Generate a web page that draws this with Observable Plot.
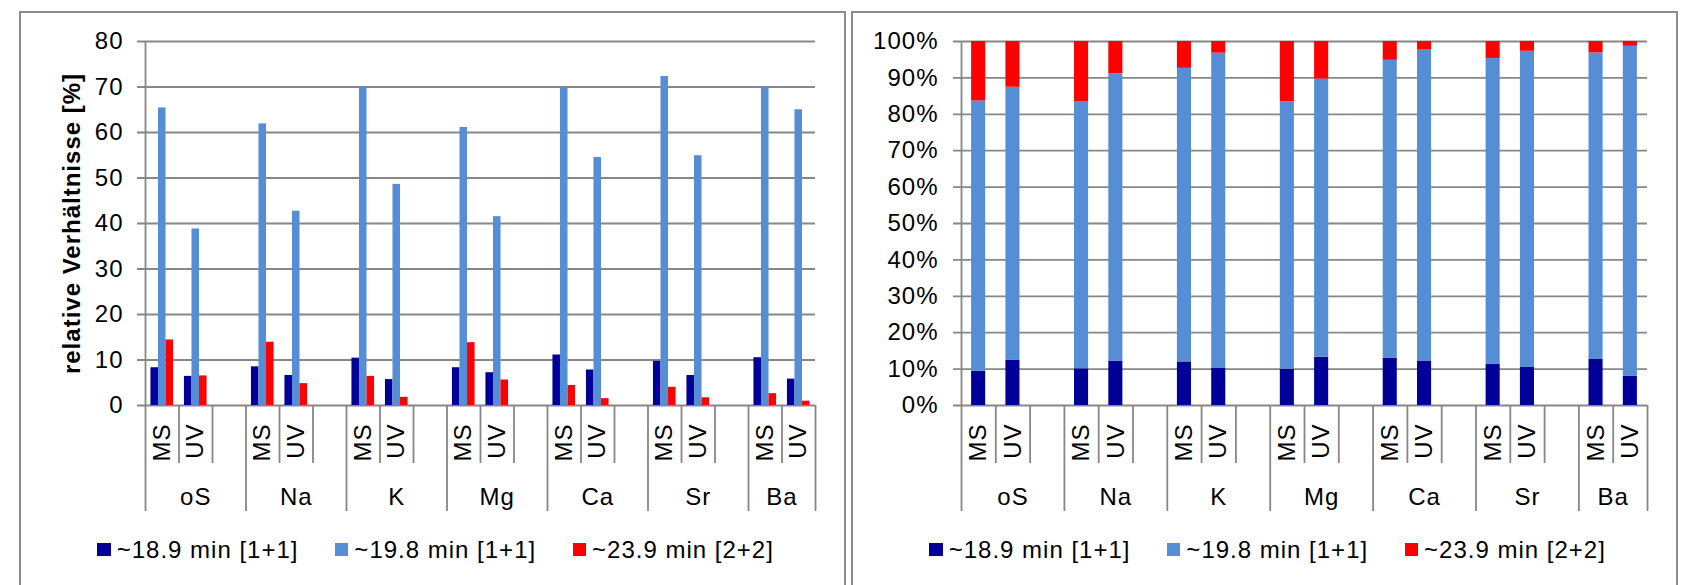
<!DOCTYPE html>
<html>
<head>
<meta charset="utf-8">
<script src="https://cdn.jsdelivr.net/npm/d3@7"></script>
<script src="https://cdn.jsdelivr.net/npm/@observablehq/plot@0.6"></script>
<style>
  html, body { margin: 0; padding: 0; background: #fff; }
  #page { position: relative; width: 1690px; height: 585px; overflow: hidden; font-family: "Liberation Sans", Arial, sans-serif; color: #000; }
  .chart { position: absolute; top: 0; width: 845px; height: 520px; }
  .chart svg { font-family: "Liberation Sans", Arial, sans-serif; font-size: 24px; color: #000; overflow: visible; background: transparent; }
  .chart svg text { letter-spacing: 1px; }
  .frame { position: absolute; top: 11px; height: 700px; width: 827px; border: 2px solid #8c8c8c; box-sizing: border-box; pointer-events: none; }
  .legend { position: absolute; top: 535.5px; height: 28px; display: flex; align-items: center; font-size: 24px; letter-spacing: 1px; line-height: 28px; white-space: nowrap; }
  .item { display: flex; align-items: center; margin-right: 36.5px; }
  .sw { width: 13.4px; height: 13.4px; margin-right: 6px; flex: none; }
</style>
</head>
<body>
<div id="page">
  <div class="chart" id="left" style="left:0px"></div>
  <div class="chart" id="right" style="left:845px"></div>
  <div class="legend" id="legLeft" style="left:97.3px"></div>
  <div class="legend" id="legRight" style="left:929.3px"></div>
  <div class="frame" style="left:19px"></div>
  <div class="frame" style="left:851px"></div>
</div>
<script>
// ---------- data ----------
const groups = ["oS", "Na", "K", "Mg", "Ca", "Sr", "Ba"];
const methods = ["MS", "UV"];
const seriesNames = ["~18.9 min [1+1]", "~19.8 min [1+1]", "~23.9 min [2+2]"];
const seriesColors = ["#000099", "#558ED5", "#FF0000"];
// values ordered oS-MS, oS-UV, Na-MS, Na-UV, K-MS, K-UV, Mg-MS, Mg-UV, Ca-MS, Ca-UV, Sr-MS, Sr-UV, Ba-MS, Ba-UV
const peak189 = [8.3, 6.4, 8.5, 6.6, 10.4, 5.7, 8.3, 7.2, 11.1, 7.8, 9.7, 6.6, 10.5, 5.8];
const peak198 = [65.4, 38.8, 61.9, 42.7, 70.1, 48.6, 61.1, 41.5, 69.7, 54.5, 72.3, 54.9, 70.0, 65.0];
const peak239 = [14.4, 6.5, 13.9, 4.8, 6.4, 1.8, 13.8, 5.6, 4.4, 1.5, 4.0, 1.7, 2.6, 0.95];
const yTicksAbs = [0, 10, 20, 30, 40, 50, 60, 70, 80];
const yTicksPct = [0, 0.1, 0.2, 0.3, 0.4, 0.5, 0.6, 0.7, 0.8, 0.9, 1];
const yTitle = "relative Verhältnisse [%]";

// ---------- build table ----------
const seriesValues = [peak189, peak198, peak239];
const slots = [];
groups.forEach((g, gi) => {
  methods.forEach((m, mi) => slots.push({group: g, method: m, vi: gi * methods.length + mi}));
  if (gi < groups.length - 1) slots.push({group: g, method: null});
});
slots.forEach((s, i) => s.index = i);
const nSlots = slots.length;
const rows = slots.filter(s => s.method).flatMap(s =>
  seriesNames.map((name, si) => ({...s, series: name, si, value: seriesValues[si][s.vi]})));
const boundaries = d3.range(nSlots + 1).map(i => ({
  i, major: i === 0 || i === nSlots || slots[i].group !== slots[i - 1].group
}));
const groupCenters = groups.map(g => {
  const idx = slots.filter(s => s.group === g).map(s => s.index);
  return {group: g, center: (d3.min(idx) + d3.max(idx) + 1) / 2};
});

// ---------- styling ----------
const GRID = "#878787";
const GW = 1.8;
const svgStyle = {fontFamily: "Liberation Sans, Arial, sans-serif", fontSize: "24px", background: "transparent", overflow: "visible"};

function categoryAxis() {
  return [
    Plot.ruleX(boundaries.filter(b => !b.major), {x: "i", y1: 0, y2: 0, insetBottom: -58, stroke: GRID, strokeWidth: GW}),
    Plot.ruleX(boundaries.filter(b => b.major), {x: "i", y1: 0, y2: 0, insetBottom: -106, stroke: GRID, strokeWidth: GW}),
    Plot.text(slots.filter(s => s.method), {x: d => d.index + 0.5, y: 0, text: "method", rotate: -90, textAnchor: "end", dy: 18, fontSize: 24}),
    Plot.text(groupCenters, {x: "center", y: 0, text: "group", dy: 92, fontSize: 24})
  ];
}

const color = {domain: seriesNames, range: seriesColors};

// ---------- left chart ----------
const BW = 0.225;
const left = Plot.plot({
  width: 845, height: 520,
  marginLeft: 145, marginRight: 30, marginTop: 41, marginBottom: 115,
  style: svgStyle,
  x: {type: "linear", domain: [0, nSlots], axis: null, label: null},
  y: {domain: [0, 80], ticks: yTicksAbs, tickSize: 0, tickPadding: 22, tickFormat: d => String(d), label: null},
  color,
  marks: [
    Plot.ruleY(yTicksAbs, {y: d => d, stroke: GRID, strokeWidth: GW, insetLeft: -8}),
    Plot.rect(rows, {
      x1: d => d.index + 0.5 + (d.si - 1.5) * BW,
      x2: d => d.index + 0.5 + (d.si - 0.5) * BW,
      y1: 0, y2: "value", fill: "series"
    }),
    Plot.ruleX([0], {x: d => d, y1: 0, y2: 80, stroke: GRID, strokeWidth: GW}),
    ...categoryAxis(),
    Plot.text([yTitle], {text: d => d, frameAnchor: "left", textAnchor: "middle", rotate: -90, dx: -72.7, fontWeight: "bold", fontSize: 24})
  ]
});
document.getElementById("left").appendChild(left);

// ---------- right chart ----------
const BW2 = 0.41;
const right = Plot.plot({
  width: 845, height: 520,
  marginLeft: 116, marginRight: 43, marginTop: 41, marginBottom: 115,
  style: svgStyle,
  x: {type: "linear", domain: [0, nSlots], axis: null, label: null},
  y: {domain: [0, 1], ticks: yTicksPct, tickSize: 0, tickPadding: 23, tickFormat: d3.format(".0%"), label: null},
  color,
  marks: [
    Plot.ruleY(yTicksPct, {y: d => d, stroke: GRID, strokeWidth: GW, insetLeft: -8}),
    Plot.rectY(rows, {
      x1: d => d.index + 0.5 - BW2 / 2,
      x2: d => d.index + 0.5 + BW2 / 2,
      y: "value", fill: "series", offset: "normalize"
    }),
    Plot.ruleX([0], {x: d => d, y1: 0, y2: 1, stroke: GRID, strokeWidth: GW}),
    ...categoryAxis()
  ]
});
document.getElementById("right").appendChild(right);

// ---------- legends ----------
function legend(el) {
  seriesNames.forEach((name, i) => {
    const item = document.createElement("div");
    item.className = "item";
    const sw = document.createElement("div");
    sw.className = "sw";
    sw.style.background = seriesColors[i];
    const t = document.createElement("span");
    t.textContent = name;
    item.appendChild(sw);
    item.appendChild(t);
    el.appendChild(item);
  });
}
legend(document.getElementById("legLeft"));
legend(document.getElementById("legRight"));
</script>
</body>
</html>
